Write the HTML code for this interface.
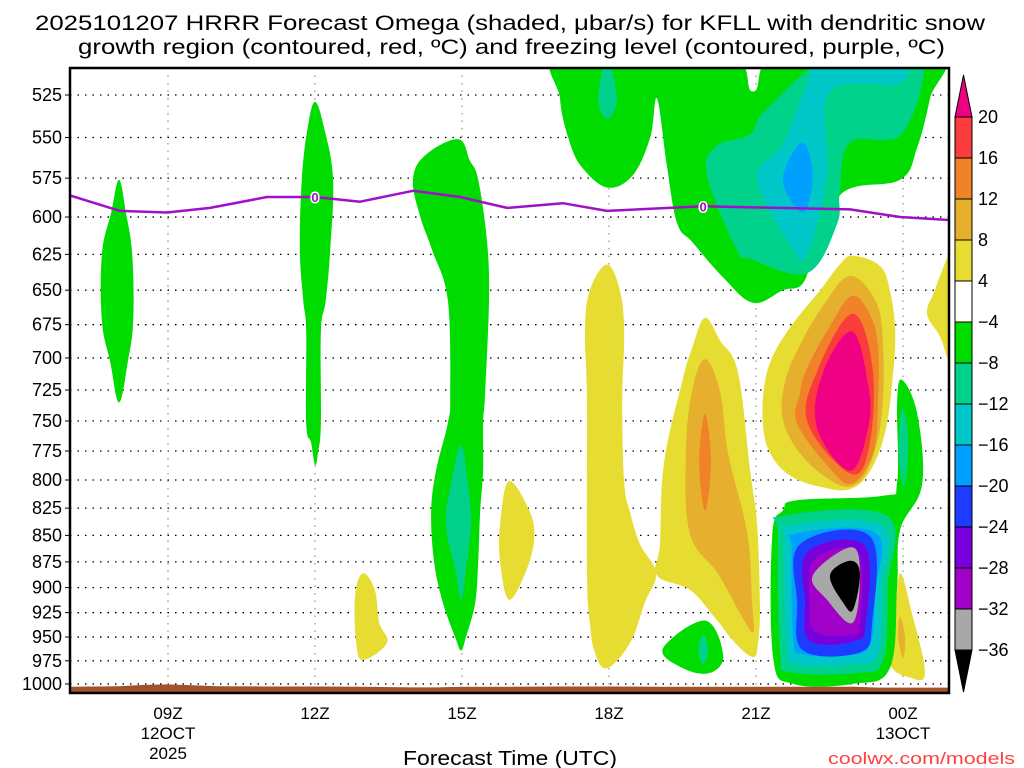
<!DOCTYPE html>
<html><head><meta charset="utf-8"><title>HRRR Omega KFLL</title>
<style>
html,body{margin:0;padding:0;background:#fff;}
svg{display:block;font-family:"Liberation Sans","DejaVu Sans",sans-serif;}
</style></head>
<body>
<svg id="chart" width="1024" height="768" viewBox="0 0 1024 768" xmlns="http://www.w3.org/2000/svg">
<text x="35" y="30" font-size="21" textLength="950" lengthAdjust="spacingAndGlyphs">2025101207 HRRR Forecast Omega (shaded, μbar/s) for KFLL with dendritic snow</text>
<text x="78" y="54" font-size="21" textLength="867" lengthAdjust="spacingAndGlyphs">growth region (contoured, red, ºC) and freezing level (contoured, purple, ºC)</text>
<defs><clipPath id="plotclip"><rect x="70" y="68" width="879" height="625"/></clipPath></defs>
<g id="grid"></g>
<g id="fills" clip-path="url(#plotclip)"></g>
<g id="ground" clip-path="url(#plotclip)"></g>
<g id="frz" clip-path="url(#plotclip)"></g>
<rect x="70" y="68" width="879" height="625" fill="none" stroke="#000" stroke-width="2.5"/>
<g id="axes"></g>
<g id="cbar"></g>
<text x="403" y="765" font-size="20" textLength="214" lengthAdjust="spacingAndGlyphs">Forecast Time (UTC)</text>
<text x="828" y="764" font-size="17" textLength="187" lengthAdjust="spacingAndGlyphs" fill="#ff4040">coolwx.com/models</text>
</svg>
<script>
// ---- data ----
const pressureTicks = [525,550,575,600,625,650,675,700,725,750,775,800,825,850,875,900,925,950,975,1000];
const timeTicks = [9,12,15,18,21,24];
const timeLabels = ["09Z","12Z","15Z","18Z","21Z","00Z"];
const dateLabels = {9:["12OCT","2025"],24:["13OCT"]};
const cbLevels = ["20","16","12","8","4","\u22124","\u22128","\u221212","\u221216","\u221220","\u221224","\u221228","\u221232","\u221236"];
const cbColors = ["#fa3c3c","#f08228","#e6af2d","#e6dc32","#ffffff","#00dc00","#00d28c","#00c8c8","#00a0ff","#1e3cff","#7800dc","#a000c8","#a8a8a8"];
const frzHours = [7.0,8.02,8.98,9.86,11.02,12.0,12.92,14.0,14.96,15.92,17.06,17.96,19.92,22.92,23.94,24.96];
const frzPres  = [586,596,597,594,587,587,590,583,587,594,591,596,593,595,600,602];
const sfcHours = [7,8,8.5,9,9.5,10,11,12,13,14,14.5,15,16,17,18,19,20,21,22,23,23.5,24,25];
const sfcPres  = [1003,1002.5,1001,1000.5,1001.5,1002.5,1002.8,1002.8,1003,1003.8,1003.8,1003,1003,1002.8,1002.8,1003,1003,1003,1003,1003,1004,1004,1004];

const blobA = [[8.0,576],[8.14,597],[8.27,625],[8.29,672],[8.18,703],[8.0,735],[7.82,703],[7.65,672],[7.65,625],[7.84,597]];
const blobB = [[12.0,529],[12.2,546],[12.37,576],[12.31,622],[12.22,657],[12.12,680],[12.12,752],[12.06,777],[12.0,787],[11.92,768],[11.82,752],[11.82,680],[11.76,657],[11.69,622],[11.73,576],[11.84,546]];
const blobC = [[14.92,551],[15.16,564],[15.33,576],[15.51,616],[15.55,657],[15.47,729],[15.43,752],[15.43,792],[15.37,829],[15.33,875],[15.27,915],[15.08,950],[14.98,964],[14.86,950],[14.61,915],[14.43,875],[14.37,829],[14.47,792],[14.71,752],[14.76,729],[14.71,657],[14.39,622],[14.14,599],[14.0,576],[14.24,561]];
const blobCteal = [[14.98,770],[15.12,803],[15.18,839],[15.08,882],[14.98,912],[14.86,882],[14.67,839],[14.78,803]];
const blobD = [[12.98,886],[13.22,902],[13.31,935],[13.47,956],[12.98,974],[12.84,956],[12.82,907]];
const blobE = [[15.96,801],[16.39,829],[16.47,855],[16.29,886],[15.96,912],[15.78,876],[15.78,839]];
const blobF = [[17.96,632],[18.22,650],[18.31,680],[18.27,735],[18.31,802],[18.43,829],[18.63,858],[18.96,886],[18.73,915],[18.43,956],[17.96,983],[17.71,966],[17.61,935],[17.55,886],[17.55,735],[17.51,680],[17.61,650]];
const blobG = [[19.96,670],[20.27,687],[20.63,711],[20.88,792],[21.02,839],[21.08,915],[21.04,956],[20.94,971],[20.57,956],[20.16,930],[19.65,902],[18.98,888],[19.04,858],[19.12,786],[19.49,719],[19.71,691]];
const blobGgold = [[19.96,701],[20.27,727],[20.43,777],[20.82,848],[20.92,915],[20.94,945],[20.67,925],[20.22,886],[19.65,848],[19.57,777],[19.69,727]];
const blobGorange = [[19.96,744],[20.08,784],[19.96,827],[19.84,784]];
const blobH = [[22.98,626],[23.53,633],[23.73,650],[23.84,680],[23.78,719],[23.63,760],[23.33,792],[22.92,808],[22.31,806],[21.69,796],[21.29,777],[21.14,752],[21.18,719],[21.39,695],[21.8,672],[22.31,650],[22.71,632]];
const blobHgold = [[22.92,640],[23.43,657],[23.59,687],[23.57,744],[23.33,786],[22.98,805],[22.51,800],[21.9,777],[21.55,749],[21.59,719],[21.9,690],[22.41,659]];
const blobHorange = [[22.96,654],[23.33,668],[23.49,692],[23.49,735],[23.39,777],[22.96,803],[22.51,790],[21.84,752],[21.9,727],[22.04,708],[22.51,676]];
const blobHred = [[22.96,667],[23.37,705],[23.33,766],[22.96,795],[22.06,752],[22.24,711]];
const blobHpink = [[22.96,680],[23.29,721],[23.29,755],[22.92,792],[22.24,755],[22.37,711]];
const blobI = [[19.1,962],[19.96,933],[20.33,969],[20.06,988],[19.51,983]];
const blobIteal = [[19.92,948],[20.02,963],[19.92,979],[19.82,963]];
const blobJ = [[23.94,886],[24.18,925],[24.45,988],[24.14,993],[23.73,977],[23.84,931]];
const blobJgold = [[23.94,929],[24.04,950],[24.0,972],[23.9,950]];
const blobK = [[25.1,615],[24.92,626],[24.65,650],[24.49,667],[24.76,684],[24.92,701],[25.1,708]];
const blobN = [[23.98,717],[24.29,744],[24.39,804],[23.94,845],[23.88,899],[23.73,983],[22.98,1000],[21.76,1000],[21.35,972],[21.33,851],[21.55,827],[21.84,818],[23.59,814],[23.88,802],[23.88,735]];
const blobNstrip = [[24.0,740],[24.1,760],[24.08,790],[24.0,805],[23.92,780],[23.93,755]];
const blobN8 = [[21.55,832],[23.67,832],[23.69,899],[23.59,975],[23.06,988],[21.69,987],[21.49,966],[21.45,851]];
const blobN12 = [[21.69,841],[23.57,841],[23.57,900],[23.49,968],[22.96,979],[21.84,979],[21.63,961],[21.59,858]];
const blobN16 = [[21.84,848],[23.45,848],[23.43,905],[23.33,958],[22.88,969],[21.96,968],[21.76,952],[21.73,865]];
const blobN20 = [[21.9,858],[23.33,851],[23.37,935],[23.12,966],[21.96,964],[21.84,915]];
const blobN24 = [[22.06,865],[23.22,860],[23.24,935],[23.02,954],[22.1,954],[22.0,915]];
const blobN28 = [[22.2,872],[23.08,867],[23.12,935],[22.92,948],[22.2,944],[22.1,915]];
const blobN32 = [[22.16,888],[22.92,861],[23.12,883],[22.98,935],[22.45,912]];
const blobN36 = [[22.51,888],[22.92,874],[23.12,886],[22.98,922],[22.78,915]];
const blobL = [[17.06,500],[17.0,527],[17.2,553],[17.47,569],[17.98,581],[18.49,573],[18.84,550],[18.98,527],[19.18,567],[19.39,604],[19.71,617],[20.33,641],[20.94,659],[21.55,650],[21.96,645],[22.24,619],[22.78,584],[23.94,576],[24.29,556],[24.55,527],[24.71,500],[21.55,500],[20.94,523],[20.33,500]];
const blobL8 = [[22.69,500],[24.35,500],[24.0,547],[22.92,553],[22.71,584],[22.65,605],[22.04,638],[20.88,628],[20.61,622],[20.0,573],[20.2,555],[20.88,548],[21.22,533]];
const blobL12 = [[22.45,500],[23.94,500],[23.94,518],[22.51,523],[22.45,573],[22.04,625],[21.69,618],[21.02,575],[21.55,554],[22.04,519]];
const blobL16 = [[21.94,553],[22.16,573],[21.96,597],[21.55,576]];
const blobLdiamond = [[17.96,505],[18.16,527],[17.96,539],[17.78,527]];

const pos4="#e6dc32",pos8="#e6af2d",pos12="#f08228",pos16="#fa3c3c",pos20="#f00082";
const neg4="#00dc00",neg8="#00d28c",neg12="#00c8c8",neg16="#00a0ff",neg20="#1e3cff",neg24="#7800dc",neg28="#a000c8",neg32="#a8a8a8",neg36="#000000";
const layers = [
 ["blob-a",blobA,neg4],["blob-b",blobB,neg4],["blob-c",blobC,neg4],["blob-c-core",blobCteal,neg8],
 ["blob-d",blobD,pos4],["blob-e",blobE,pos4],["blob-f",blobF,pos4],
 ["blob-g",blobG,pos4],["blob-g-8",blobGgold,pos8],["blob-g-12",blobGorange,pos12],
 ["blob-h",blobH,pos4],["blob-h-8",blobHgold,pos8],["blob-h-12",blobHorange,pos12],["blob-h-16",blobHred,pos16],["blob-h-20",blobHpink,pos20],
 ["blob-i",blobI,neg4],["blob-i-core",blobIteal,neg8],["blob-j",blobJ,pos4],["blob-j-8",blobJgold,pos8],["blob-k",blobK,pos4],
 ["blob-n",blobN,neg4],["blob-n-strip",blobNstrip,neg8],["blob-n-8",blobN8,neg8],["blob-n-12",blobN12,neg12],["blob-n-16",blobN16,neg16],
 ["blob-n-20",blobN20,neg20],["blob-n-24",blobN24,neg24],["blob-n-28",blobN28,neg28],["blob-n-32",blobN32,neg32],["blob-n-36",blobN36,neg36],
 ["blob-l",blobL,neg4],["blob-l-8",blobL8,neg8],["blob-l-12",blobL12,neg12],["blob-l-16",blobL16,neg16],["blob-l-diamond",blobLdiamond,neg8]
];

// ---- axes ----
const NS="http://www.w3.org/2000/svg";
const X0=70, X1=949, Y0=68, Y1=693;
function xs(h){ return 70 + (h-7)*49; }
function ys(p){ return 95 + 914*Math.log(p/525); }
function mk(tag, attrs, parent){ const e=document.createElementNS(NS,tag); for(const k in attrs) e.setAttribute(k,attrs[k]); parent.appendChild(e); return e; }
function smoothPath(pts){
  const P=pts.map(d=>[xs(d[0]),ys(d[1])]); const n=P.length; let s="M"+P[0][0].toFixed(1)+","+P[0][1].toFixed(1);
  for(let i=0;i<n;i++){ const p0=P[(i-1+n)%n],p1=P[i],p2=P[(i+1)%n],p3=P[(i+2)%n]; const t=0.18;
    const c1=[p1[0]+(p2[0]-p0[0])*t,p1[1]+(p2[1]-p0[1])*t], c2=[p2[0]-(p3[0]-p1[0])*t,p2[1]-(p3[1]-p1[1])*t];
    s+="C"+c1[0].toFixed(1)+","+c1[1].toFixed(1)+" "+c2[0].toFixed(1)+","+c2[1].toFixed(1)+" "+p2[0].toFixed(1)+","+p2[1].toFixed(1); }
  return s+"Z";
}
const grid=document.getElementById('grid'), fills=document.getElementById('fills'), axes=document.getElementById('axes');
pressureTicks.forEach(p=>{
  const y=ys(p);
  const gl=mk('line',{x1:X0,x2:X1,y1:y,y2:y,stroke:"#000","stroke-width":1.3,"stroke-dasharray":"1.5,6"},grid);
  
  
  const tk=mk('line',{x1:X0-5,x2:X0,y1:y,y2:y,stroke:"#000","stroke-width":1},axes);
  
  
  const t=mk('text',{x:X0-8,y:y+6,"font-size":18,"text-anchor":"end"},axes); t.textContent=p;
  
  
});
timeTicks.forEach((h,i)=>{
  const x=xs(h);
  const gl=mk('line',{x1:x,x2:x,y1:Y0,y2:Y1,stroke:"#999","stroke-width":1.3,"stroke-dasharray":"1.5,6"},grid);
  
  
  const t=mk('text',{x:x,y:719,"font-size":17,"text-anchor":"middle"},axes); t.textContent=timeLabels[i];
  
  
  (dateLabels[h]||[]).forEach((s,j)=>{ const d=mk('text',{x:x,y:739+j*20,"font-size":17,"text-anchor":"middle"},axes); d.textContent=s;
    
     });
});
layers.forEach(L=>{
  const e=mk('path',{d:smoothPath(L[1]),fill:L[2]},fills);
  
  
});
// ground
let gd="M"+xs(sfcHours[0])+","+(Y1+5);
sfcHours.forEach((h,i)=>{ gd+="L"+xs(h).toFixed(1)+","+ys(sfcPres[i]).toFixed(1); });
gd+="L"+xs(sfcHours[sfcHours.length-1])+","+(Y1+5)+"Z";
const gr=mk('path',{d:gd,fill:"#a0522d"},document.getElementById('ground'));


// freezing level
const frz=document.getElementById('frz');
let fd=""; frzHours.forEach((h,i)=>{ fd+=(i?"L":"M")+xs(h).toFixed(1)+","+ys(frzPres[i]).toFixed(1); });
const fl=mk('path',{d:fd,fill:"none",stroke:"#a010c8","stroke-width":2.5,"stroke-linejoin":"round"},frz);


[5,12].forEach(i=>{
  const lb=mk('text',{x:xs(frzHours[i]),y:ys(frzPres[i])+5,"font-size":13,"text-anchor":"middle",fill:"#a010c8","font-weight":"bold",stroke:"#fff","stroke-width":3,"paint-order":"stroke"},frz);
  lb.textContent="0";
  
  
});
// colorbar
const cb=document.getElementById('cbar'); const cx=955, cw=17, cbTop=117, step=41;
const tu=mk('polygon',{points:`${cx},${cbTop} ${cx+cw},${cbTop} ${cx+cw/2},${cbTop-42}`,fill:"#f00082",stroke:"#000","stroke-width":1},cb);


cbColors.forEach((c,i)=>{
  const r=mk('rect',{x:cx,y:cbTop+i*step,width:cw,height:step,fill:c,stroke:"#000","stroke-width":1},cb);
  
  
});
const cbBot=cbTop+cbColors.length*step;
const td=mk('polygon',{points:`${cx},${cbBot} ${cx+cw},${cbBot} ${cx+cw/2},${cbBot+42}`,fill:"#000",stroke:"#000","stroke-width":1},cb);


cbLevels.forEach((s,i)=>{
  const t=mk('text',{x:978,y:cbTop+i*step+6,"font-size":18},cb); t.textContent=s;
  
  
});
</script>
</body></html>
